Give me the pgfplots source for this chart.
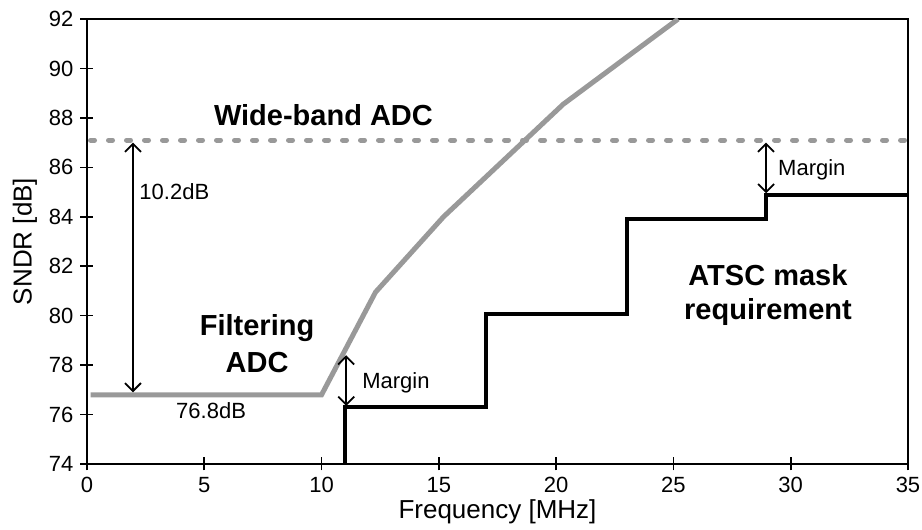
\documentclass[border=0pt]{standalone}
\usepackage{pgfplots}
\pgfplotsset{compat=1.18}
\usepackage{fontspec}
\setmainfont{Liberation Sans}
\usetikzlibrary{arrows.meta}
\definecolor{lgray}{gray}{0.6}

\begin{document}
\begin{tikzpicture}
\begin{axis}[
  scale only axis, width=410.5pt, height=222.5pt,
  xmin=0, xmax=35, ymin=74, ymax=92,
  xtick={0,5,...,35}, ytick={74,76,...,92},
  tick align=center, major tick length=6.5pt,
  xtick pos=bottom, ytick pos=left,
  axis line style={line width=1.2pt},
  tick style={line width=0.8pt, black},
  tick label style={font=\fontsize{11}{13}\selectfont},
  /pgf/number format/assume math mode=true,
  xlabel={Frequency [MHz]}, ylabel={SNDR [dB]},
  label style={font=\fontsize{13}{15}\selectfont},
  xlabel style={at={(axis description cs:0.5,-0.1079)}, anchor=center},
  ylabel style={at={(axis description cs:-0.0755,0.5)}, anchor=center},
]
  % wide-band ADC
  \addplot[lgray, line width=2.5pt, line cap=round, dash pattern=on 2pt off 7pt] coordinates {(0.15,87.1) (35,87.1)};
  % filtering ADC
  \addplot[lgray, line width=2.5pt] coordinates {(0.15,76.8) (10,76.8) (12.3,80.95) (15.2,84) (20.3,88.55) (25.2,92)};
  % ATSC mask
  \addplot[black, line width=2pt] coordinates {(11,74) (11,76.3) (17,76.3) (17,80.05) (23,80.05) (23,83.9) (28.95,83.9) (28.95,84.9) (35,84.9)};

  \draw[{Straight Barb[length=4pt,width=8pt]}-{Straight Barb[length=4pt,width=8pt]}, line width=0.9pt] (axis cs:1.96,87.0) -- (axis cs:1.96,76.9);
  \draw[{Straight Barb[length=4pt,width=8pt]}-{Straight Barb[length=4pt,width=8pt]}, line width=0.9pt] (axis cs:11.05,78.4) -- (axis cs:11.05,76.35);
  \draw[{Straight Barb[length=4pt,width=8pt]}-{Straight Barb[length=4pt,width=8pt]}, line width=0.9pt] (axis cs:28.95,87.0) -- (axis cs:28.95,84.95);

  \node[font=\fontsize{14.5}{17}\bfseries] at (axis cs:10.08,88.11) {Wide-band ADC};
  \node[font=\fontsize{14.5}{18.5}\bfseries, align=center] at (axis cs:7.25,78.88) {Filtering\\ADC};
  \node[font=\fontsize{14.5}{17}\bfseries, align=center] at (axis cs:29.03,80.83) {ATSC mask\\requirement};
  \node[font=\fontsize{11}{13}\selectfont, anchor=west, inner sep=0pt] at (axis cs:2.22,85.0) {10.2dB};
  \node[font=\fontsize{11}{13}\selectfont] at (axis cs:5.29,76.17) {76.8dB};
  \node[font=\fontsize{11}{13}\selectfont, anchor=west, inner sep=0pt] at (axis cs:11.72,77.3) {Margin};
  \node[font=\fontsize{11}{13}\selectfont, anchor=west, inner sep=0pt] at (axis cs:29.45,85.89) {Margin};

  % shadow on the right edge
  \draw[black!75, line width=1.4pt] ([xshift=1pt,yshift=-1.5pt]rel axis cs:1,1) -- ([xshift=1pt]rel axis cs:1,0);
  \coordinate (sw) at (rel axis cs:0,0);
  \coordinate (ne) at (rel axis cs:1,1);
\end{axis}
\pgfresetboundingbox
\path ([shift={(-43.5pt,-33pt)}]sw) rectangle ([shift={(7pt,9.5pt)}]ne);
\end{tikzpicture}
\end{document}
